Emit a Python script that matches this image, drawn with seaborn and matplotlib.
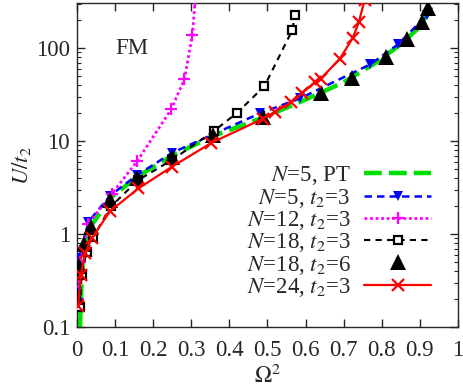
import matplotlib
matplotlib.use("Agg")
import matplotlib.pyplot as plt
import seaborn as sns
import numpy as np

# --- data (x = Omega^2, y = U/t2) ---
pt_x = [0.008, 0.010, 0.015, 0.035, 0.090, 0.160, 0.250, 0.360, 0.490, 0.600, 0.700, 0.780, 0.850, 0.900, 0.935]
pt_y = [0.10, 0.20, 0.50, 1.20, 2.50, 4.20, 7.00, 11.5, 18.0, 28.0, 43.0, 68.0, 110, 170, 300]

n5_x = [0.000, 0.005, 0.030, 0.087, 0.157, 0.250, 0.360, 0.480, 0.585, 0.770, 0.843, 0.918]
n5_y = [0.24, 0.55, 1.36, 2.60, 4.30, 7.50, 12.0, 19.9, 28.8, 67.0, 110, 226]

n12_x = [0.003, 0.008, 0.030, 0.091, 0.158, 0.247, 0.282, 0.303, 0.310]
n12_y = [0.20, 0.50, 1.30, 2.70, 6.10, 21.9, 46.4, 140, 330]

n18_x = [0.008, 0.012, 0.025, 0.043, 0.090, 0.160, 0.250, 0.360, 0.421, 0.492, 0.565, 0.572]
n18_y = [0.165, 0.36, 0.65, 0.94, 2.00, 3.80, 6.30, 12.9, 20.3, 39.0, 156, 226]

n18b_x = [0.000, 0.006, 0.017, 0.037, 0.087, 0.157, 0.249, 0.358, 0.488, 0.640, 0.721, 0.811, 0.865, 0.905, 0.922]
n18b_y = [0.21, 0.46, 0.79, 1.20, 2.32, 3.97, 6.80, 11.6, 18.1, 32.6, 48.0, 80.6, 124, 192, 267]

n24_x = [0.003, 0.010, 0.021, 0.039, 0.087, 0.161, 0.249, 0.353, 0.489, 0.520, 0.563, 0.590, 0.625, 0.640, 0.690, 0.724, 0.740, 0.755]
n24_y = [0.17, 0.36, 0.62, 0.91, 1.77, 3.10, 5.30, 9.60, 17.5, 20.7, 26.5, 32.6, 43.4, 47.0, 77.0, 129, 192, 330]

labels = [r"$N$=5, PT", r"$N$=5, $t_2$=3", r"$N$=12, $t_2$=3",
          r"$N$=18, $t_2$=3", r"$N$=18, $t_2$=6", r"$N$=24, $t_2$=3"]
xticks = [0, 0.1, 0.2, 0.3, 0.4, 0.5, 0.6, 0.7, 0.8, 0.9, 1]
xticklabels = ["0", "0.1", "0.2", "0.3", "0.4", "0.5", "0.6", "0.7", "0.8", "0.9", "1"]
yticks = [0.1, 1, 10, 100]
yticklabels = ["0.1", "1", "10", "100"]

sns.set_style("ticks")
plt.rcParams["font.family"] = ["Liberation Serif", "DejaVu Serif"]
plt.rcParams["mathtext.fontset"] = "stix"
plt.rcParams["font.size"] = 16.5

fig = plt.figure(figsize=(4.64, 3.89), dpi=100)
ax = fig.add_axes([0.166, 0.159, 0.821, 0.833])

common = dict(ax=ax, estimator=None, sort=False)
sns.lineplot(x=pt_x, y=pt_y, color="#00e000", linestyle=(0, (4, 1.6)), lw=3.2,
             label=labels[0], zorder=2, **common)
sns.lineplot(x=n5_x, y=n5_y, color="#0000ff", linestyle=(0, (3, 2)), lw=1.8,
             marker="v", markersize=7, markeredgewidth=0, markeredgecolor="#0000ff",
             label=labels[1], zorder=3, **common)
sns.lineplot(x=n12_x, y=n12_y, color="#ff00ff", linestyle=(0, (1, 1)), lw=2,
             marker="+", markersize=9, markeredgewidth=1.6, markeredgecolor="#ff00ff",
             label=labels[2], zorder=3, **common)
sns.lineplot(x=n18_x, y=n18_y, color="black", linestyle=(0, (3, 2.5)), lw=1.5,
             marker="s", markersize=6, markerfacecolor="white", markeredgewidth=1.6,
             markeredgecolor="black", label=labels[3], zorder=4, **common)
sns.lineplot(x=n18b_x, y=n18b_y, color="black", linestyle="none",
             marker="^", markersize=12, markeredgewidth=0, markeredgecolor="black",
             label=labels[4], zorder=5, **common)
sns.lineplot(x=n24_x, y=n24_y, color="#ff0000", linestyle="-", lw=1.6,
             marker="x", markersize=8, markeredgewidth=1.6, markeredgecolor="#ff0000",
             label=labels[5], zorder=6, **common)

ax.set_yscale("log")
ax.set_xlim(0, 1)
ax.set_ylim(0.1, 305)
ax.set_xticks(xticks, xticklabels)
ax.set_yticks(yticks, yticklabels)
ax.tick_params(which="both", direction="in", top=True, right=True)
ax.tick_params(which="major", length=6, width=1)
ax.tick_params(which="minor", length=3, width=0.8)
ax.tick_params(axis="x", pad=9)
ax.tick_params(axis="y", pad=5)
for s in ax.spines.values():
    s.set_linewidth(1)

ax.set_xlabel(r"$\Omega^2$", labelpad=3)
ax.set_ylabel(r"$U/t_2$", labelpad=2)
ax.text(0.144, 100, "FM", ha="center", va="center")

leg = ax.legend(loc="lower right", bbox_to_anchor=(0.965, 0.045), frameon=False,
                markerfirst=False, handlelength=2.9, handletextpad=0.6,
                labelspacing=-0.03, borderaxespad=0.2, fontsize=16.5)
for t in leg.get_texts():
    t.set_ha("right")
leg._legend_box.align = "right"

fig.savefig("out.png", dpi=100)
